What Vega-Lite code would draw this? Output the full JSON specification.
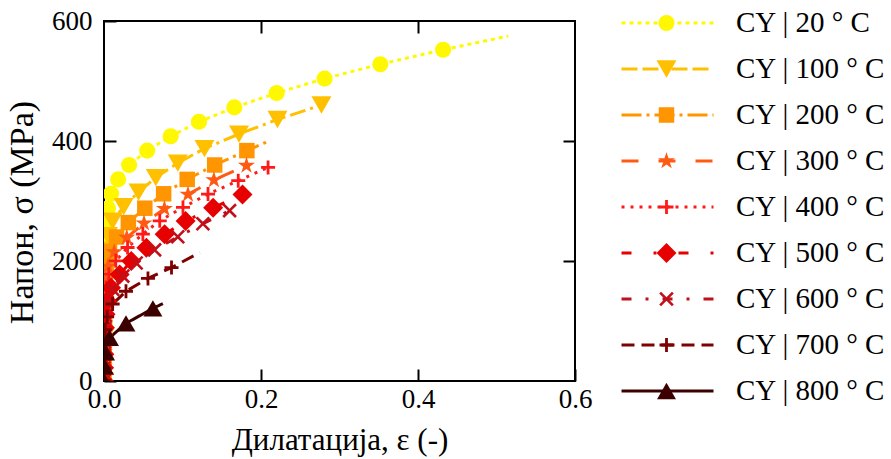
{
  "$schema": "https://vega.github.io/schema/vega-lite/v6.json",
  "width": 471,
  "height": 360,
  "autosize": {"type": "none"},
  "padding": {"left": 104, "top": 21, "right": 316, "bottom": 78},
  "background": "white",
  "config": {
    "font": "Liberation Serif",
    "view": {"stroke": "black", "strokeWidth": 2},
    "axis": {"domain": false, "grid": false, "labelColor": "black", "tickColor": "black", "tickWidth": 2, "tickSize": 12, "offset": -12, "titleColor": "black", "titleFontWeight": "normal", "labelFont": "Liberation Serif", "titleFont": "Liberation Serif"}
  },
  "data": {
    "values": [
      {"s": "CY | 20 ° C", "x": 0, "y": 0, "m": 1},
      {"s": "CY | 20 ° C", "x": 0.0001, "y": 24, "m": 1},
      {"s": "CY | 20 ° C", "x": 0.0002, "y": 48, "m": 1},
      {"s": "CY | 20 ° C", "x": 0.0004, "y": 72, "m": 1},
      {"s": "CY | 20 ° C", "x": 0.0005, "y": 96, "m": 1},
      {"s": "CY | 20 ° C", "x": 0.0006, "y": 120, "m": 1},
      {"s": "CY | 20 ° C", "x": 0.0007, "y": 144, "m": 1},
      {"s": "CY | 20 ° C", "x": 0.0009, "y": 168, "m": 1},
      {"s": "CY | 20 ° C", "x": 0.0011, "y": 192, "m": 1},
      {"s": "CY | 20 ° C", "x": 0.0014, "y": 216, "m": 1},
      {"s": "CY | 20 ° C", "x": 0.002, "y": 240, "m": 1},
      {"s": "CY | 20 ° C", "x": 0.003, "y": 264, "m": 1},
      {"s": "CY | 20 ° C", "x": 0.005, "y": 288, "m": 1},
      {"s": "CY | 20 ° C", "x": 0.009, "y": 312, "m": 1},
      {"s": "CY | 20 ° C", "x": 0.018, "y": 336, "m": 1},
      {"s": "CY | 20 ° C", "x": 0.032, "y": 360, "m": 1},
      {"s": "CY | 20 ° C", "x": 0.055, "y": 384, "m": 1},
      {"s": "CY | 20 ° C", "x": 0.085, "y": 408, "m": 1},
      {"s": "CY | 20 ° C", "x": 0.121, "y": 432, "m": 1},
      {"s": "CY | 20 ° C", "x": 0.166, "y": 456, "m": 1},
      {"s": "CY | 20 ° C", "x": 0.22, "y": 480, "m": 1},
      {"s": "CY | 20 ° C", "x": 0.281, "y": 504, "m": 1},
      {"s": "CY | 20 ° C", "x": 0.352, "y": 528, "m": 1},
      {"s": "CY | 20 ° C", "x": 0.432, "y": 552, "m": 1},
      {"s": "CY | 20 ° C", "x": 0.515, "y": 575, "m": 0},
      {"s": "CY | 100 ° C", "x": 0, "y": 0, "m": 1},
      {"s": "CY | 100 ° C", "x": 0.0001, "y": 24.2, "m": 1},
      {"s": "CY | 100 ° C", "x": 0.0003, "y": 48.4, "m": 1},
      {"s": "CY | 100 ° C", "x": 0.0004, "y": 72.6, "m": 1},
      {"s": "CY | 100 ° C", "x": 0.0005, "y": 96.8, "m": 1},
      {"s": "CY | 100 ° C", "x": 0.0007, "y": 121, "m": 1},
      {"s": "CY | 100 ° C", "x": 0.0009, "y": 145.3, "m": 1},
      {"s": "CY | 100 ° C", "x": 0.0011, "y": 169.5, "m": 1},
      {"s": "CY | 100 ° C", "x": 0.0015, "y": 193.7, "m": 1},
      {"s": "CY | 100 ° C", "x": 0.0025, "y": 218, "m": 1},
      {"s": "CY | 100 ° C", "x": 0.005, "y": 242.2, "m": 1},
      {"s": "CY | 100 ° C", "x": 0.011, "y": 266.4, "m": 1},
      {"s": "CY | 100 ° C", "x": 0.025, "y": 290.6, "m": 1},
      {"s": "CY | 100 ° C", "x": 0.044, "y": 314.8, "m": 1},
      {"s": "CY | 100 ° C", "x": 0.066, "y": 339, "m": 1},
      {"s": "CY | 100 ° C", "x": 0.094, "y": 363.2, "m": 1},
      {"s": "CY | 100 ° C", "x": 0.128, "y": 387.4, "m": 1},
      {"s": "CY | 100 ° C", "x": 0.172, "y": 411.6, "m": 1},
      {"s": "CY | 100 ° C", "x": 0.221, "y": 435.8, "m": 1},
      {"s": "CY | 100 ° C", "x": 0.277, "y": 460, "m": 1},
      {"s": "CY | 200 ° C", "x": 0, "y": 0, "m": 1},
      {"s": "CY | 200 ° C", "x": 0.0002, "y": 24, "m": 1},
      {"s": "CY | 200 ° C", "x": 0.0004, "y": 48, "m": 1},
      {"s": "CY | 200 ° C", "x": 0.0006, "y": 72, "m": 1},
      {"s": "CY | 200 ° C", "x": 0.0008, "y": 96, "m": 1},
      {"s": "CY | 200 ° C", "x": 0.001, "y": 120, "m": 1},
      {"s": "CY | 200 ° C", "x": 0.0013, "y": 144, "m": 1},
      {"s": "CY | 200 ° C", "x": 0.0018, "y": 168, "m": 1},
      {"s": "CY | 200 ° C", "x": 0.003, "y": 192, "m": 1},
      {"s": "CY | 200 ° C", "x": 0.007, "y": 216, "m": 1},
      {"s": "CY | 200 ° C", "x": 0.016, "y": 240, "m": 1},
      {"s": "CY | 200 ° C", "x": 0.031, "y": 264, "m": 1},
      {"s": "CY | 200 ° C", "x": 0.052, "y": 288, "m": 1},
      {"s": "CY | 200 ° C", "x": 0.076, "y": 312, "m": 1},
      {"s": "CY | 200 ° C", "x": 0.106, "y": 336, "m": 1},
      {"s": "CY | 200 ° C", "x": 0.141, "y": 360, "m": 1},
      {"s": "CY | 200 ° C", "x": 0.182, "y": 384, "m": 1},
      {"s": "CY | 200 ° C", "x": 0.212, "y": 401, "m": 0},
      {"s": "CY | 300 ° C", "x": 0, "y": 0, "m": 1},
      {"s": "CY | 300 ° C", "x": 0.0002, "y": 24, "m": 1},
      {"s": "CY | 300 ° C", "x": 0.0004, "y": 48, "m": 1},
      {"s": "CY | 300 ° C", "x": 0.0006, "y": 72, "m": 1},
      {"s": "CY | 300 ° C", "x": 0.0008, "y": 96, "m": 1},
      {"s": "CY | 300 ° C", "x": 0.0011, "y": 120, "m": 1},
      {"s": "CY | 300 ° C", "x": 0.0014, "y": 144, "m": 1},
      {"s": "CY | 300 ° C", "x": 0.0022, "y": 168, "m": 1},
      {"s": "CY | 300 ° C", "x": 0.005, "y": 191, "m": 1},
      {"s": "CY | 300 ° C", "x": 0.013, "y": 215, "m": 1},
      {"s": "CY | 300 ° C", "x": 0.029, "y": 239, "m": 1},
      {"s": "CY | 300 ° C", "x": 0.051, "y": 263, "m": 1},
      {"s": "CY | 300 ° C", "x": 0.077, "y": 287, "m": 1},
      {"s": "CY | 300 ° C", "x": 0.107, "y": 311, "m": 1},
      {"s": "CY | 300 ° C", "x": 0.14, "y": 335, "m": 1},
      {"s": "CY | 300 ° C", "x": 0.1815, "y": 359, "m": 1},
      {"s": "CY | 400 ° C", "x": 0, "y": 0, "m": 1},
      {"s": "CY | 400 ° C", "x": 0.0002, "y": 22.3, "m": 1},
      {"s": "CY | 400 ° C", "x": 0.0004, "y": 44.5, "m": 1},
      {"s": "CY | 400 ° C", "x": 0.0006, "y": 66.8, "m": 1},
      {"s": "CY | 400 ° C", "x": 0.0008, "y": 89, "m": 1},
      {"s": "CY | 400 ° C", "x": 0.001, "y": 111.3, "m": 1},
      {"s": "CY | 400 ° C", "x": 0.0015, "y": 133.5, "m": 1},
      {"s": "CY | 400 ° C", "x": 0.0025, "y": 155.8, "m": 1},
      {"s": "CY | 400 ° C", "x": 0.006, "y": 178, "m": 1},
      {"s": "CY | 400 ° C", "x": 0.015, "y": 200.3, "m": 1},
      {"s": "CY | 400 ° C", "x": 0.03, "y": 222.5, "m": 1},
      {"s": "CY | 400 ° C", "x": 0.0495, "y": 244.8, "m": 1},
      {"s": "CY | 400 ° C", "x": 0.071, "y": 267, "m": 1},
      {"s": "CY | 400 ° C", "x": 0.1006, "y": 289.3, "m": 1},
      {"s": "CY | 400 ° C", "x": 0.1325, "y": 311.5, "m": 1},
      {"s": "CY | 400 ° C", "x": 0.171, "y": 333.8, "m": 1},
      {"s": "CY | 400 ° C", "x": 0.209, "y": 356, "m": 1},
      {"s": "CY | 500 ° C", "x": 0, "y": 0, "m": 1},
      {"s": "CY | 500 ° C", "x": 0.0002, "y": 22.2, "m": 1},
      {"s": "CY | 500 ° C", "x": 0.0005, "y": 44.4, "m": 1},
      {"s": "CY | 500 ° C", "x": 0.0008, "y": 66.7, "m": 1},
      {"s": "CY | 500 ° C", "x": 0.0012, "y": 88.9, "m": 1},
      {"s": "CY | 500 ° C", "x": 0.002, "y": 111.1, "m": 1},
      {"s": "CY | 500 ° C", "x": 0.004, "y": 133.3, "m": 1},
      {"s": "CY | 500 ° C", "x": 0.009, "y": 155.5, "m": 1},
      {"s": "CY | 500 ° C", "x": 0.02, "y": 177.7, "m": 1},
      {"s": "CY | 500 ° C", "x": 0.0347, "y": 200, "m": 1},
      {"s": "CY | 500 ° C", "x": 0.054, "y": 222.2, "m": 1},
      {"s": "CY | 500 ° C", "x": 0.0772, "y": 244.4, "m": 1},
      {"s": "CY | 500 ° C", "x": 0.104, "y": 266.6, "m": 1},
      {"s": "CY | 500 ° C", "x": 0.139, "y": 288.8, "m": 1},
      {"s": "CY | 500 ° C", "x": 0.1764, "y": 311, "m": 1},
      {"s": "CY | 600 ° C", "x": 0, "y": 0, "m": 1},
      {"s": "CY | 600 ° C", "x": 0.0002, "y": 21.8, "m": 1},
      {"s": "CY | 600 ° C", "x": 0.0004, "y": 43.7, "m": 1},
      {"s": "CY | 600 ° C", "x": 0.0007, "y": 65.5, "m": 1},
      {"s": "CY | 600 ° C", "x": 0.001, "y": 87.4, "m": 1},
      {"s": "CY | 600 ° C", "x": 0.0018, "y": 109.2, "m": 1},
      {"s": "CY | 600 ° C", "x": 0.004, "y": 131.1, "m": 1},
      {"s": "CY | 600 ° C", "x": 0.011, "y": 152.9, "m": 1},
      {"s": "CY | 600 ° C", "x": 0.024, "y": 174.8, "m": 1},
      {"s": "CY | 600 ° C", "x": 0.041, "y": 196.6, "m": 1},
      {"s": "CY | 600 ° C", "x": 0.0645, "y": 218.5, "m": 1},
      {"s": "CY | 600 ° C", "x": 0.094, "y": 240.3, "m": 1},
      {"s": "CY | 600 ° C", "x": 0.126, "y": 262.2, "m": 1},
      {"s": "CY | 600 ° C", "x": 0.16, "y": 284, "m": 1},
      {"s": "CY | 700 ° C", "x": 0, "y": 0, "m": 1},
      {"s": "CY | 700 ° C", "x": 0.0002, "y": 21.4, "m": 1},
      {"s": "CY | 700 ° C", "x": 0.0005, "y": 42.8, "m": 1},
      {"s": "CY | 700 ° C", "x": 0.0009, "y": 64.1, "m": 1},
      {"s": "CY | 700 ° C", "x": 0.0015, "y": 85.5, "m": 1},
      {"s": "CY | 700 ° C", "x": 0.004, "y": 106.9, "m": 1},
      {"s": "CY | 700 ° C", "x": 0.011, "y": 128.3, "m": 1},
      {"s": "CY | 700 ° C", "x": 0.028, "y": 149.6, "m": 1},
      {"s": "CY | 700 ° C", "x": 0.056, "y": 171, "m": 1},
      {"s": "CY | 700 ° C", "x": 0.086, "y": 189, "m": 1},
      {"s": "CY | 700 ° C", "x": 0.122, "y": 214, "m": 0},
      {"s": "CY | 800 ° C", "x": 0, "y": 0, "m": 1},
      {"s": "CY | 800 ° C", "x": 0.0008, "y": 24, "m": 1},
      {"s": "CY | 800 ° C", "x": 0.002, "y": 48, "m": 1},
      {"s": "CY | 800 ° C", "x": 0.007, "y": 72, "m": 1},
      {"s": "CY | 800 ° C", "x": 0.028, "y": 96, "m": 1},
      {"s": "CY | 800 ° C", "x": 0.0623, "y": 121, "m": 1},
      {"s": "CY | 800 ° C", "x": 0.075, "y": 129, "m": 0}
    ]
  },
  "layer": [
    {
      "mark": {"type": "line", "strokeWidth": 3, "clip": true},
      "encoding": {
        "x": {"field": "x", "type": "quantitative", "scale": {"domain": [0, 0.6], "nice": false, "zero": false},
          "axis": {"orient": "bottom", "values": [0, 0.2, 0.4, 0.6], "format": ".1f", "labelFontSize": 27, "labelPadding": 5, "labelFlush": false, "labelOverlap": false, "labelBound": false,
            "title": "Дилатација, ε (-)", "titleFontSize": 31, "titleY": 71, "titleBaseline": "middle"}},
        "y": {"field": "y", "type": "quantitative", "scale": {"domain": [0, 600], "nice": false, "zero": false},
          "axis": {"orient": "left", "values": [0, 200, 400, 600], "labelFontSize": 27, "labelPadding": 12, "labelFlush": false, "labelOverlap": false, "labelBound": false,
            "title": "Напон, σ (MPa)", "titleFontSize": 34, "titleX": -94, "titleY": 191, "titleAngle": -90, "titleBaseline": "middle", "titleAlign": "center"}},
        "order": {"field": "y", "type": "quantitative"},
        "color": {"field": "s", "type": "nominal",
          "scale": {"domain": ["CY | 20 ° C", "CY | 100 ° C", "CY | 200 ° C", "CY | 300 ° C", "CY | 400 ° C", "CY | 500 ° C", "CY | 600 ° C", "CY | 700 ° C", "CY | 800 ° C"],
            "range": ["#FFF800", "#FFC000", "#FF9500", "#FF5A14", "#FF1A1A", "#E60000", "#C0101A", "#7E0000", "#3C0000"]},
          "legend": {"orient": "none", "legendX": 516, "legendY": -20.6, "title": null, "symbolType": "stroke", "symbolSize": 8464, "symbolStrokeWidth": 3,
            "labelFontSize": 29, "labelColor": "black", "labelOffset": 21, "clipHeight": 45.2, "rowPadding": 0, "labelLimit": 300}},
        "strokeDash": {"field": "s", "type": "nominal",
          "scale": {"domain": ["CY | 20 ° C", "CY | 100 ° C", "CY | 200 ° C", "CY | 300 ° C", "CY | 400 ° C", "CY | 500 ° C", "CY | 600 ° C", "CY | 700 ° C", "CY | 800 ° C"],
            "range": [[4, 4], [16, 5, 16, 5, 3, 5], [20, 5, 3, 5], [17, 20], [3, 6], [10, 22, 3, 22], [10, 14, 3, 14], [13, 7], [1, 0]]}}
      }
    },
    {
      "transform": [{"filter": "datum.m == 1"}],
      "mark": {"type": "point", "filled": true, "opacity": 1, "clip": true},
      "encoding": {
        "x": {"field": "x", "type": "quantitative", "axis": null},
        "y": {"field": "y", "type": "quantitative", "axis": null},
        "color": {"field": "s", "type": "nominal",
          "scale": {"domain": ["CY | 20 ° C", "CY | 100 ° C", "CY | 200 ° C", "CY | 300 ° C", "CY | 400 ° C", "CY | 500 ° C", "CY | 600 ° C", "CY | 700 ° C", "CY | 800 ° C"],
            "range": ["#FFF800", "#FFC000", "#FF9500", "#FF5A14", "#FF1A1A", "#E60000", "#C0101A", "#7E0000", "#3C0000"]},
          "legend": {"orient": "none", "legendX": 548, "legendY": -20.6, "title": null, "symbolStrokeWidth": 0,
            "labelFontSize": 29, "labelExpr": "''", "clipHeight": 45.2, "rowPadding": 0}},
        "shape": {"field": "s", "type": "nominal",
          "scale": {"domain": ["CY | 20 ° C", "CY | 100 ° C", "CY | 200 ° C", "CY | 300 ° C", "CY | 400 ° C", "CY | 500 ° C", "CY | 600 ° C", "CY | 700 ° C", "CY | 800 ° C"],
            "range": ["circle", "triangle-down", "square",
              "M0,-1L0.223,-0.307L0.951,-0.309L0.361,0.117L0.588,0.809L0,0.38L-0.588,0.809L-0.361,0.117L-0.951,-0.309L-0.223,-0.307Z",
              "M-1,-0.2H-0.2V-1H0.2V-0.2H1V0.2H0.2V1H-0.2V0.2H-1Z",
              "diamond",
              "M0,-0.24L0.72,-0.96L0.96,-0.72L0.24,0L0.96,0.72L0.72,0.96L0,0.24L-0.72,0.96L-0.96,0.72L-0.24,0L-0.96,-0.72L-0.72,-0.96Z",
              "M-1,-0.2H-0.2V-1H0.2V-0.2H1V0.2H0.2V1H-0.2V0.2H-1Z",
              "triangle-up"]}},
        "size": {"field": "s", "type": "nominal",
          "scale": {"type": "ordinal", "domain": ["CY | 20 ° C", "CY | 100 ° C", "CY | 200 ° C", "CY | 300 ° C", "CY | 400 ° C", "CY | 500 ° C", "CY | 600 ° C", "CY | 700 ° C", "CY | 800 ° C"],
            "range": [260, 400, 240, 320, 196, 400, 230, 196, 360]}}
      }
    },
    {
      "mark": {"type": "point", "opacity": 0},
      "encoding": {
        "x": {"field": "x", "type": "quantitative", "axis": {"orient": "top", "values": [0.2, 0.4], "labels": false, "title": null}},
        "y": {"field": "y", "type": "quantitative", "axis": {"orient": "right", "values": [200, 400], "labels": false, "title": null}}
      }
    }
  ],
  "resolve": {"scale": {"color": "independent", "shape": "independent", "strokeDash": "independent", "size": "independent"}, "axis": {"x": "independent", "y": "independent"}}
}
